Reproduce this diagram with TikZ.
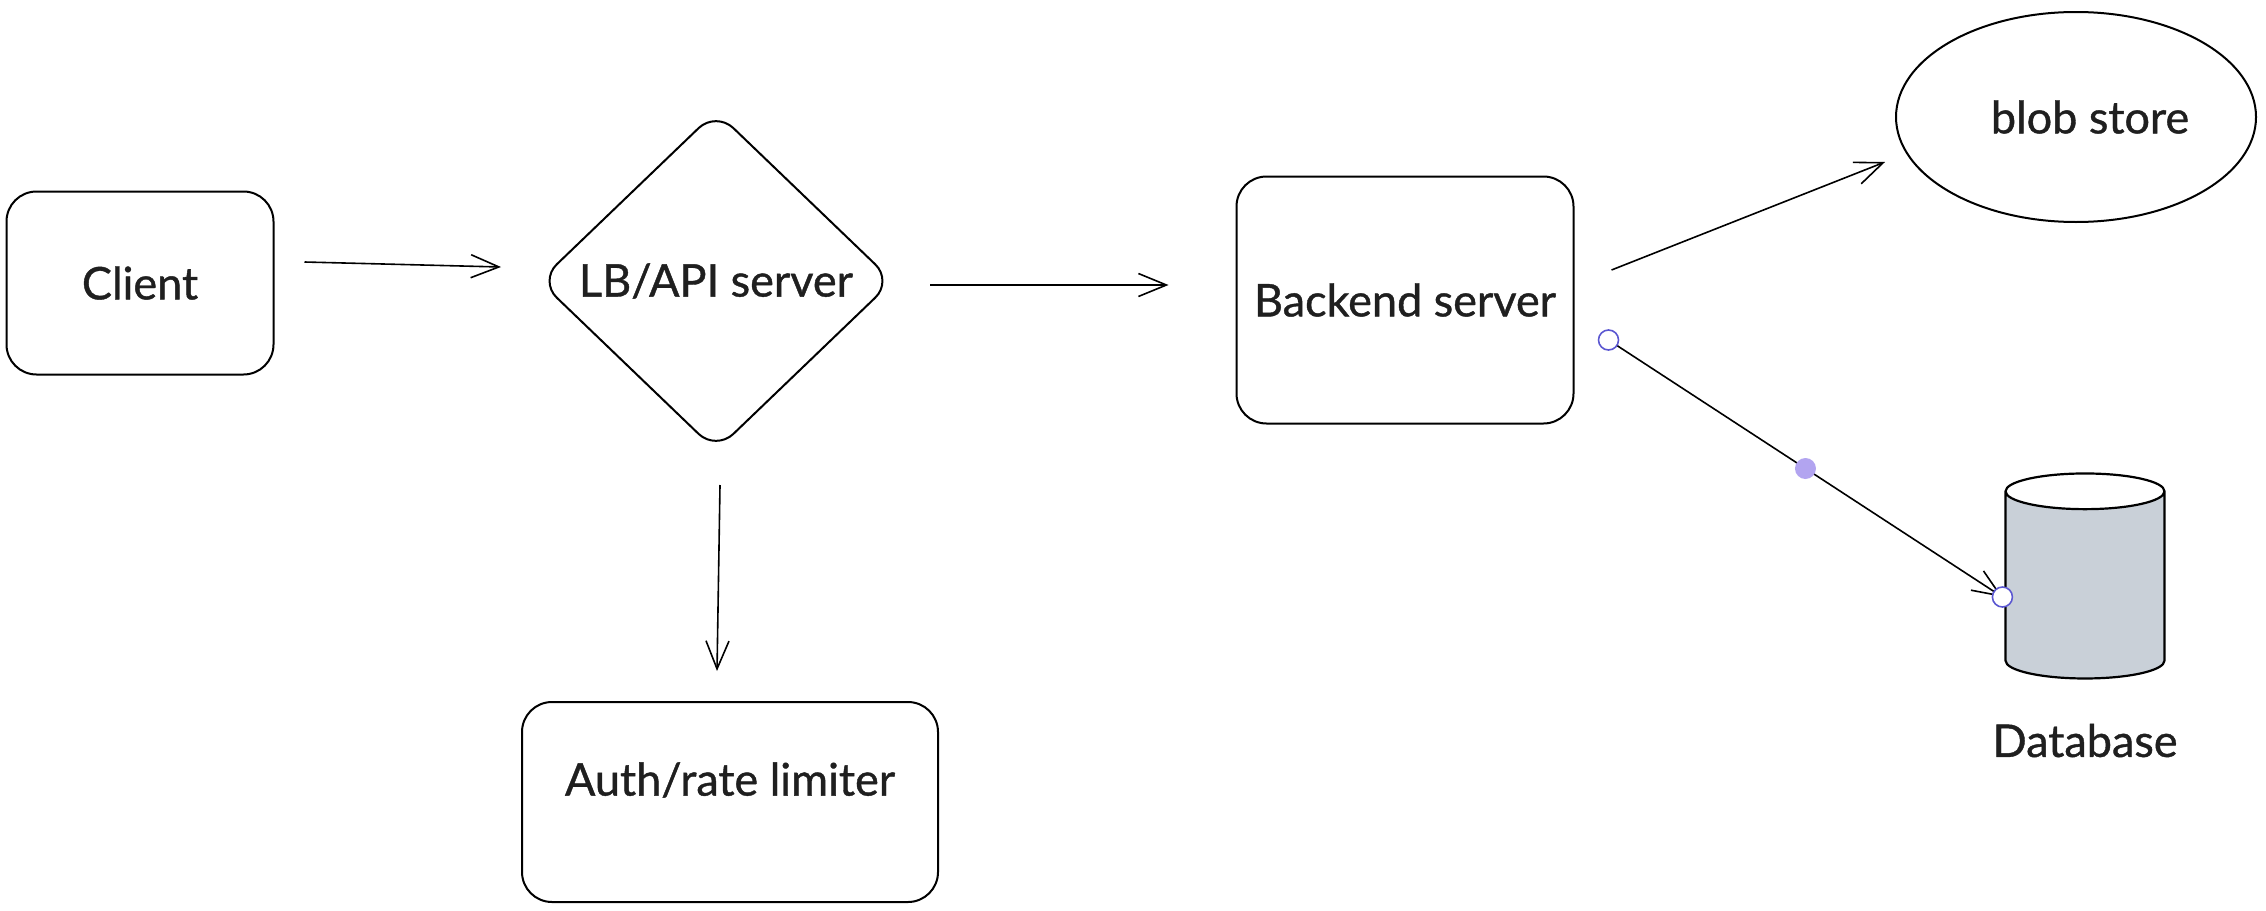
\documentclass[tikz,border=0pt]{standalone}
\usepackage{fontspec}
\setmainfont{Lato}[UprightFeatures={FakeBold=0.9}]
\usetikzlibrary{positioning,shapes.geometric,arrows.meta}

\definecolor{dbfill}{HTML}{C9D0D8}
\definecolor{handle}{HTML}{5B57D1}
\definecolor{midpt}{HTML}{B2A4F0}

\tikzset{
  lbl/.style={font=\fontsize{45}{54}\selectfont, text=black!88},
  component/.style={draw, lbl, rounded corners=30pt, line width=2pt},
  gateway/.style={draw, lbl, diamond, aspect=1.04, rounded corners=24pt, line width=2pt, inner sep=0pt},
  store/.style={draw, lbl, ellipse, line width=2pt},
  dbcyl/.style={draw, cylinder, shape border rotate=90, aspect=0.24, line width=2.2pt,
    cylinder uses custom fill, cylinder body fill=dbfill, cylinder end fill=white},
  link/.style={->, line width=1.6pt},
  handlept/.style={circle, draw=handle, fill=white, line width=1.6pt, minimum size=20pt, inner sep=0pt},
  midhandle/.style={circle, fill=midpt, minimum size=21pt, inner sep=0pt}
}

\begin{document}
\begin{tikzpicture}[x=1pt, y=-1pt, >={Straight Barb[length=28pt,width=23pt]}]
  \useasboundingbox (0,0) rectangle (2266,910);

  \node[component, minimum width=267pt, minimum height=183pt] (client) at (140,283) {Client};
  \node[gateway, minimum width=354pt, minimum height=340pt] (lb) at (716,281) {LB/API server};
  \node[component, minimum width=337pt, minimum height=247pt] (backend) at (1405,300) {Backend server};
  \node[component, minimum width=416pt, minimum height=200pt,
    label={[lbl, name=authtext, yshift=22pt]center:Auth/rate limiter}] (auth) at (730,802) {};
  \node[store, minimum width=360pt, minimum height=210pt] (blob) at (2076,117) {\hspace*{28pt}blob store};
  \node[dbcyl, minimum width=159pt, minimum height=205pt] (db) at (2085,588) {\hspace*{142pt}};
  \node[lbl, inner sep=0pt, below=44pt of db] (dbtext) {Database};

  \draw[link] ([xshift=30pt,yshift=21pt]client.east) -- ([xshift=-37pt,yshift=14pt]lb.west);
  \draw[link] ([xshift=36pt,yshift=-4pt]lb.east) -- ([xshift=-67pt,yshift=15pt]backend.west);
  \draw[link] ([xshift=4pt,yshift=-33pt]lb.south) -- ([xshift=-13pt,yshift=30pt]auth.north);
  \draw[link] ([xshift=37pt,yshift=30pt]backend.east) -- ([xshift=-10pt,yshift=-45pt]blob.west);
  % selected arrow, with its handles
  \draw[link] ([xshift=34pt,yshift=-40pt]backend.east)
    -- node[midhandle] (dbmid) {}
    ([xshift=-2pt,yshift=-9pt]db.west)
    node[pos=0, handlept] (dbstart) {}
    node[pos=1, handlept] (dbend) {};
\end{tikzpicture}
\end{document}
